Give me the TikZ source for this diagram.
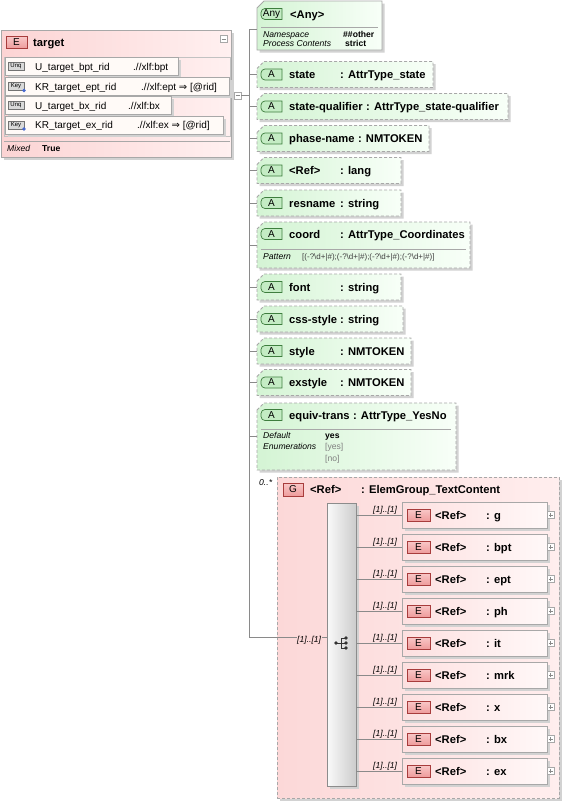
\documentclass[tikz,border=0pt]{standalone}
\usepackage{fontspec}
\setmainfont{Liberation Sans}
\newfontfamily\djv{DejaVu Sans}
\usetikzlibrary{shadows}
\definecolor{lineg}{HTML}{8A8A8A}
\definecolor{frameg}{HTML}{A8A8A8}
\definecolor{shad}{HTML}{D2D2D2}
\definecolor{attrL}{HTML}{D4F4D4}
\definecolor{attrR}{HTML}{F8FFF8}
\definecolor{abf}{HTML}{C4ECC4}
\definecolor{abd}{HTML}{3E7E3E}
\definecolor{pinkL}{HTML}{FCD4D4}
\definecolor{pinkR}{HTML}{FFF0F0}
\definecolor{grpL}{HTML}{FCD8D8}
\definecolor{grpR}{HTML}{FFEEEE}
\definecolor{elemL}{HTML}{FDE0E0}
\definecolor{elemR}{HTML}{FFF8F8}
\definecolor{ebT}{HTML}{F9C8C8}
\definecolor{ebB}{HTML}{EE9C9C}
\definecolor{ebd}{HTML}{A83C3C}
\definecolor{keyf}{HTML}{FFFAF7}
\definecolor{enumg}{HTML}{808080}
\definecolor{keyblue}{HTML}{4668D0}
\tikzset{
  frame/.style={anchor=north west, inner sep=0pt, outer sep=0pt, draw=none},
  conn/.style={draw=lineg, line width=0.8pt},
  sepln/.style={draw=frameg, line width=0.6pt},
  dashln/.style={draw=frameg, line width=0.8pt, dash pattern=on 3pt off 2pt},
  solidln/.style={draw=frameg, line width=0.8pt},
  sh/.style={drop shadow={shadow xshift=2.5pt, shadow yshift=-2.5pt, fill=shad, opacity=1}},
  hdr/.style={font=\fontsize{11.2}{13}\selectfont\bfseries, inner sep=0pt, anchor=base west},
  lab/.style={font=\fontsize{8.6}{10}\selectfont, inner sep=0pt, anchor=base west},
  labi/.style={font=\fontsize{8.6}{10}\selectfont\itshape, inner sep=0pt, anchor=base west},
  labb/.style={font=\fontsize{8.6}{10}\selectfont\bfseries, inner sep=0pt, anchor=base west},
  keyt/.style={font=\fontsize{10}{12}\selectfont, inner sep=0pt, anchor=base west},
  badget/.style={font=\fontsize{10}{12}\selectfont, inner sep=0pt},
}
% chamfered attribute frame: [style] name, x, y, w, h
\newcommand\attrframe[6][dashln]{%
  \node[frame, minimum width=#5pt, minimum height=#6pt] (#2) at (#3,#4) {};
  \fill[shad] ([shift={(2.5pt,-9.5pt)}]#2.north west) -- ([shift={(9.5pt,-2.5pt)}]#2.north west) -- ([shift={(2.5pt,-2.5pt)}]#2.north east) -- ([shift={(2.5pt,-2.5pt)}]#2.south east) -- ([shift={(2.5pt,-2.5pt)}]#2.south west) -- cycle;
  \shade[left color=attrL, right color=attrR] ([yshift=-7pt]#2.north west) -- ([xshift=7pt]#2.north west) -- (#2.north east) -- (#2.south east) -- (#2.south west) -- cycle;
  \draw[#1] ([yshift=-7pt]#2.north west) -- ([xshift=7pt]#2.north west) -- (#2.north east) -- (#2.south east) -- (#2.south west) -- cycle;
}
% green badge: name, x, cy, text
\newcommand\abadge[4]{%
  \node[frame, minimum width=21pt, minimum height=11pt] (#1) at (#2,#3-5.5) {};
  \draw[draw=abd, fill=abf, line width=0.7pt] (#1.north east) [rounded corners=4pt] -- (#1.north west) -- (#1.south west) [sharp corners] -- (#1.south east) -- cycle;
  \node[badget] (#1t) at (#1.center) {#4};
}
% attribute row, type in column: id, cy, width, name, type
\newcommand\attrrow[5]{%
  \attrframe{#1}{257}{#2-13}{#3}{26}
  \draw[conn] (vtop |- #1.west) -- (#1.west);
  \abadge{#1b}{261}{#2}{A}
  \node[hdr] (#1n) at (289,#2+4) {#4};
  \node[hdr] (#1y) at (340,#2+4) {#5};
}
% attribute row, type following the name
\newcommand\attrrowf[5]{%
  \attrframe{#1}{257}{#2-13}{#3}{26}
  \draw[conn] (vtop |- #1.west) -- (#1.west);
  \abadge{#1b}{261}{#2}{A}
  \node[hdr] (#1n) at (289,#2+4) {#4};
  \node[hdr] (#1y) at ([xshift=3.1pt]#1n.base east) {#5};
}
% identity constraint row: id, top, width, badge, name, selector, selector x
\newcommand\keyrow[7]{%
  \node[frame, minimum width=#3pt, minimum height=18pt, draw=frameg, fill=keyf, line width=0.6pt, sh] (#1) at (5,#2) {};
  \node[frame, minimum width=16pt, minimum height=8pt, draw=black!55, fill=black!15, line width=0.5pt] (#1b) at (8,#2+5) {};
  \node[font=\fontsize{6}{7}\selectfont, inner sep=0pt] (#1bt) at (#1b.center) {#4};
  \node[keyt] (#1n) at (35,#2+12.6) {#5};
  \node[keyt] (#1s) at (#7,#2+12.6) {#6};
}
% element row: id, cy, name
\newcommand\elemrow[3]{%
  \node[frame, minimum width=145pt, minimum height=26pt, draw=frameg, left color=elemL, right color=elemR, line width=0.8pt, sh] (#1) at (402,#2-13) {};
  \draw[conn] (seq.east |- #1.west) -- (#1.west);
  \node[labi] (#1m) at (373,#2-3) {[1]..[1]};
  \node[frame, minimum width=23pt, minimum height=12pt, draw=ebd, top color=ebT, bottom color=ebB, line width=0.7pt] (#1b) at (407,#2-6) {};
  \node[badget] (#1bt) at (#1b.center) {E};
  \node[hdr] (#1r) at (435,#2+4) {<Ref>};
  \node[hdr] (#1y) at (486,#2+4) {: #3};
  \node[frame, minimum size=7pt, draw=frameg, fill=white, line width=0.5pt] (#1p) at (547,#2-3.5) {};
  \draw[lineg, line width=0.5pt] ([xshift=1.5pt]#1p.west) -- ([xshift=-1.5pt]#1p.east) ([yshift=-1.5pt]#1p.north) -- ([yshift=1.5pt]#1p.south);
}
\begin{document}
\begin{tikzpicture}[x=1pt,y=-1pt]
\useasboundingbox (0,0) rectangle (565,803);
\fill[white] (0,0) rectangle (565,803);
\coordinate (vtop) at (249,29);
\coordinate (vbot) at (249,637);
\draw[conn] (vtop) -- (vbot);

% ---------- target element ----------
\node[frame, minimum width=230pt, minimum height=127pt, draw=frameg, line width=0.8pt, left color=pinkL, right color=pinkR, sh] (target) at (1,30) {};
\node[frame, minimum width=21pt, minimum height=12pt, draw=ebd, top color=ebT, bottom color=ebB, line width=0.7pt] (targetb) at (6,36.5) {};
\node[badget] (targetbt) at (targetb.center) {E};
\node[hdr] (targetn) at (33,46) {target};
\node[frame, minimum size=7pt, draw=frameg, fill=white, line width=0.5pt] (tcol) at (220,35.5) {};
\draw[lineg, line width=0.5pt] ([xshift=1.5pt]tcol.west) -- ([xshift=-1.5pt]tcol.east);
\draw[sepln] (4,57) -- (230,57);
\draw[draw=frameg!70, line width=0.5pt] (4,57) rectangle (230,136);
\keyrow{k1}{57.5}{173}{Unq}{U\_target\_bpt\_rid}{.//xlf:bpt}{133}
\keyrow{k2}{77.5}{224}{Key}{KR\_target\_ept\_rid}{.//xlf:ept {\djv ⇒} [@rid]}{141}
\fill[keyblue] (k2b.south east) circle (1.8pt);
\keyrow{k3}{96.5}{166}{Unq}{U\_target\_bx\_rid}{.//xlf:bx}{128}
\keyrow{k4}{116}{218}{Key}{KR\_target\_ex\_rid}{.//xlf:ex {\djv ⇒} [@rid]}{137}
\fill[keyblue] (k4b.south east) circle (1.8pt);
\draw[sepln] (4,141) -- (230,141);
\node[labi] (tmixl) at (7,151.5) {Mixed};
\node[labb] (tmixv) at (42,151.5) {True};
\node[frame, minimum size=7pt, draw=frameg, fill=white, line width=0.5pt] (tcon) at (234,92) {};
\draw[lineg, line width=0.5pt] ([xshift=1.5pt]tcon.west) -- ([xshift=-1.5pt]tcon.east);
\draw[conn] (tcon.east) -- (tcon.east -| vtop);

% ---------- any ----------
\attrframe[solidln]{any}{257}{1}{125}{49}
\coordinate (anyc) at (257,29);
\draw[conn] (vtop) -- (anyc);
\abadge{anyb}{261}{14}{Any}
\node[hdr] (anyn) at (290,18) {<Any>};
\draw[sepln] (261,27.5) -- (378,27.5);
\node[labi] (anynsl) at (263,37.5) {Namespace};
\node[labi] (anypcl) at (263,46.5) {Process Contents};
\node[labb] (anynsv) at (343,37.5) {\#\#other};
\node[labb] (anypcv) at (345,46.5) {strict};

% ---------- attributes ----------
\attrrow{st}{74.5}{176}{state}{: AttrType\_state}
\attrrowf{sq}{106.5}{251}{state-qualifier}{: AttrType\_state-qualifier}
\attrrowf{pn}{138.5}{172}{phase-name}{: NMTOKEN}
\attrrow{lg}{170.5}{144}{<Ref>}{: lang}
\attrrow{rn}{203}{144}{resname}{: string}

\attrframe{coord}{257}{222}{213}{46}
\draw[conn] (vtop |- coord.west) -- (coord.west);
\abadge{coordb}{261}{234}{A}
\node[hdr] (coordn) at (289,238) {coord};
\node[hdr] (coordy) at (340,238) {: AttrType\_Coordinates};
\draw[sepln] (261,249) -- (466,249);
\node[labi] (coordpl) at (263,259) {Pattern};
\node[font=\fontsize{8}{10}\selectfont, inner sep=0pt, anchor=base west, text=black!75] (coordpv) at (302,259) {[(-?\textbackslash d+|\#);(-?\textbackslash d+|\#);(-?\textbackslash d+|\#);(-?\textbackslash d+|\#)]};

\attrrow{ft}{287}{144}{font}{: string}
\attrrow{cs}{319}{146}{css-style}{: string}
\attrrow{sy}{351}{154}{style}{: NMTOKEN}
\attrrow{es}{382.5}{154}{exstyle}{: NMTOKEN}

\attrframe{eqv}{257}{403}{199}{67}
\draw[conn] (vtop |- eqv.west) -- (eqv.west);
\abadge{eqvb}{261}{415}{A}
\node[hdr] (eqvn) at (289,419) {equiv-trans};
\node[hdr] (eqvy) at ([xshift=3.1pt]eqvn.base east) {: AttrType\_YesNo};
\draw[sepln] (261,429) -- (451,429);
\node[labi] (eqvdl) at (263,438) {Default};
\node[labi] (eqvel) at (263,449.5) {Enumerations};
\node[labb] (eqvdv) at (325,438) {yes};
\node[lab, text=enumg] (eqve1) at (325,449.5) {[yes]};
\node[lab, text=enumg] (eqve2) at (325,461) {[no]};

% ---------- group ----------
\node[labi] (grpm) at (259,485) {0..*};
\node[frame, minimum width=282pt, minimum height=321pt, left color=grpL, right color=grpR, dashln, sh] (grp) at (277,477) {};
\node[frame, minimum width=20pt, minimum height=13pt, draw=ebd, top color=ebT, bottom color=ebB, line width=0.7pt] (grpb) at (283,483) {};
\node[badget] (grpbt) at (grpb.center) {G};
\node[hdr] (grpn) at (310,493) {<Ref>};
\node[hdr] (grpy) at (361,493) {: ElemGroup\_TextContent};

\node[frame, minimum width=29pt, minimum height=283pt, draw=black!45, left color=black!2, right color=black!20, line width=0.7pt, sh] (seq) at (327,503) {};
\draw[conn] (vbot) -- (vbot -| seq.west);
\node[labi, fill=grpL, inner sep=0.5pt] (seqm) at (296.5,642.5) {[1]..[1]};
\coordinate (seqsym) at (341,643);
\begin{scope}[shift={(seqsym)}]
  \draw[black!80, line width=0.8pt] (-5,0) -- (0,0) (0,-5) -- (0,5) (0,-5) -- (5,-5) (0,0) -- (5,0) (0,5) -- (5,5);
  \fill[black!80] (-5,0) circle (1.8pt) (5,-5) circle (1.8pt) (5,0) circle (1.8pt) (5,5) circle (1.8pt);
\end{scope}

\elemrow{eg}{515}{g}
\elemrow{ebpt}{547}{bpt}
\elemrow{eept}{579}{ept}
\elemrow{eph}{611}{ph}
\elemrow{eit}{643}{it}
\elemrow{emrk}{675}{mrk}
\elemrow{ex}{707}{x}
\elemrow{ebx}{739}{bx}
\elemrow{eex}{771}{ex}
\end{tikzpicture}
\end{document}
